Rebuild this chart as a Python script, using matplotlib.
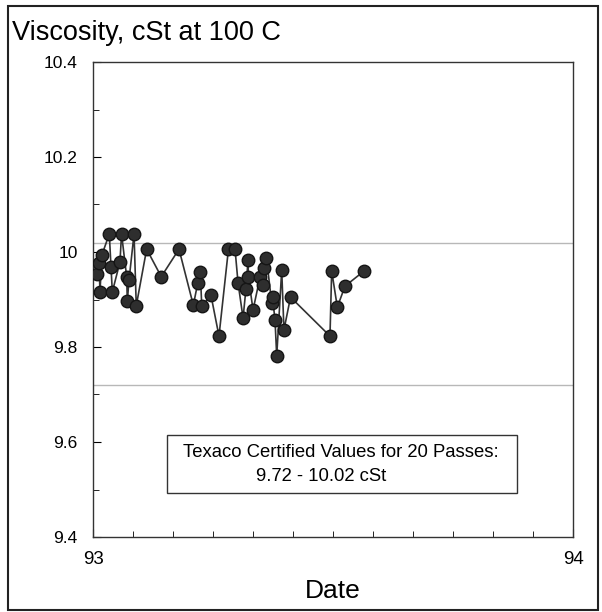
import numpy as np
import matplotlib
matplotlib.use("Agg")
import matplotlib.pyplot as plt
import matplotlib.patches as mpatches
from matplotlib.ticker import MultipleLocator, FormatStrFormatter

plt.rcParams['font.family'] = ['Liberation Sans', 'DejaVu Sans']

# day of year (1993) and viscosity readings
day = [3.4, 4.6, 5.3, 6.8, 12.4, 13.7, 14.7, 20.5, 21.7, 25.6, 26.1, 27.4,
       31.2, 32.9, 40.8, 51.9, 65.4, 76.3, 79.6, 81.6, 82.7, 89.7, 95.8,
       103.0, 108.0, 110.3, 114.1, 116.3, 117.9, 118.2, 121.7, 127.0, 129.3,
       130.4, 131.9, 135.9, 136.5, 138.4, 139.7, 143.5, 145.2, 150.2, 180.2,
       181.5, 185.8, 191.6, 206.1]
visc = [9.954, 9.977, 9.916, 9.994, 10.038, 9.968, 9.916, 9.979, 10.038,
        9.948, 9.897, 9.941, 10.038, 9.887, 10.006, 9.948, 10.006, 9.888,
        9.934, 9.958, 9.886, 9.909, 9.823, 10.006, 10.006, 9.935, 9.861,
        9.922, 9.983, 9.947, 9.878, 9.947, 9.931, 9.966, 9.987, 9.893,
        9.905, 9.857, 9.781, 9.962, 9.836, 9.905, 9.823, 9.960, 9.884,
        9.928, 9.960]
limits = [9.72, 10.02]
box_lines = ["Texaco Certified Values for 20 Passes:", "9.72 - 10.02 cSt"]

x = 93 + np.array(day) / 365.0

fig = plt.figure(figsize=(6.02, 6.12), dpi=100)
fig.patches.append(mpatches.Rectangle((8 / 602, 2 / 612), 590 / 602, 604 / 612,
                                      transform=fig.transFigure, fill=False,
                                      edgecolor='#222222', linewidth=1.5))
ax = fig.add_axes([93 / 602, 75 / 612, 480 / 602, 475 / 612])

for v in limits:
    ax.axhline(v, color='#b8b8b8', linewidth=1.0, zorder=1)

ax.plot(x, visc, color='#333333', linewidth=1.2, zorder=2)
ax.plot(x, visc, 'o', markersize=9, markerfacecolor='#2e2e2e',
        markeredgecolor='#151515', zorder=3)

ax.set_xlim(93, 94)
ax.set_ylim(9.4, 10.4)
ax.set_xticks([93, 94])
ax.xaxis.set_minor_locator(MultipleLocator(1 / 12))
ax.yaxis.set_major_locator(MultipleLocator(0.2))
ax.yaxis.set_minor_locator(MultipleLocator(0.1))
ax.yaxis.set_major_formatter(FormatStrFormatter('%g'))
ax.xaxis.set_major_formatter(FormatStrFormatter('%g'))
ax.tick_params(axis='both', which='both', direction='in')
ax.tick_params(axis='y', which='major', length=6, pad=11, labelsize=12.5)
ax.tick_params(axis='y', which='minor', length=4)
ax.tick_params(axis='x', which='major', length=6, pad=10, labelsize=13.5)
ax.tick_params(axis='x', which='minor', length=4)
for s in ax.spines.values():
    s.set_linewidth(1.0)
    s.set_color('#333333')

ax.add_patch(mpatches.Rectangle((93.154, 9.493), 0.729, 0.122, fill=False,
                                edgecolor='#333333', linewidth=1.0, zorder=4))
ax.text(93.517, 9.578, box_lines[0], ha='center', va='center', fontsize=13.3)
ax.text(93.475, 9.527, box_lines[1], ha='center', va='center', fontsize=13.3)

ax.set_xlabel('Date', fontsize=19, labelpad=8)
fig.text(12 / 602, 1 - 33 / 612, 'Viscosity, cSt at 100 C', fontsize=19.5,
         ha='left', va='center')

fig.savefig('out.png', dpi=100)
